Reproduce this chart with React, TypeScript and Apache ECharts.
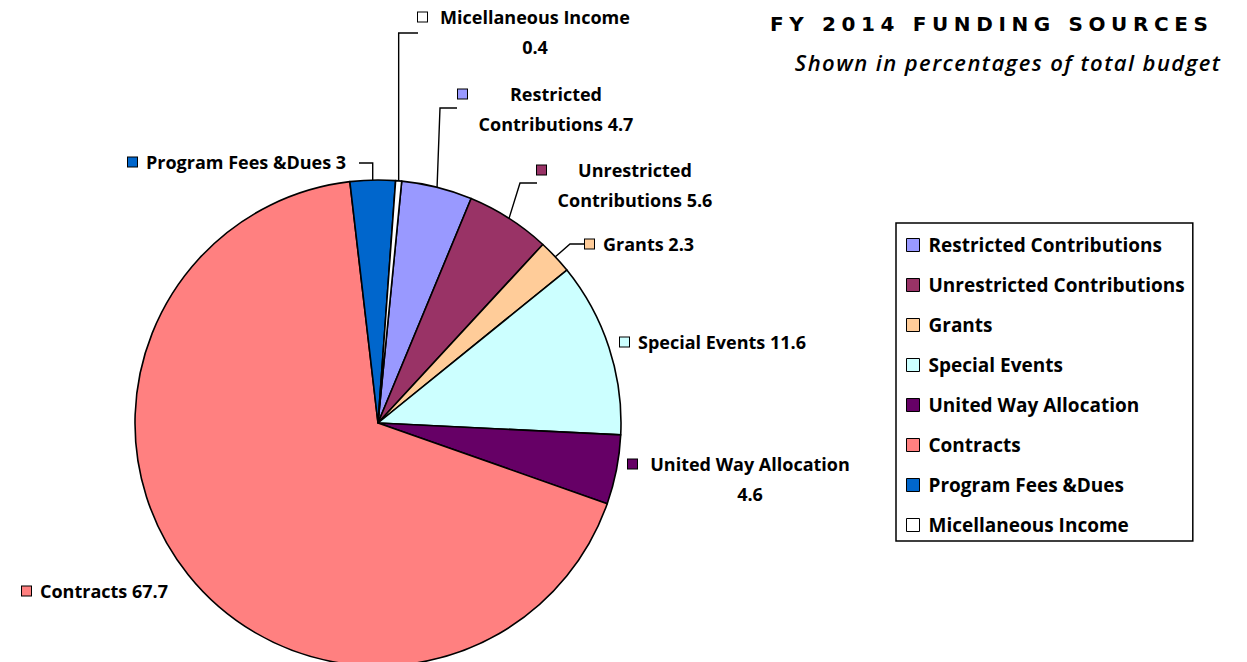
import React, { useEffect, useRef } from 'react';
import * as echarts from 'echarts';

const TITLE = 'FY 2014 FUNDING SOURCES';
const SUBTITLE = 'Shown in percentages of total budget';
const CATEGORIES = [
  'Restricted Contributions',
  'Unrestricted Contributions',
  'Grants',
  'Special Events',
  'United Way Allocation',
  'Contracts',
  'Program Fees &Dues',
  'Micellaneous Income',
];
const VALUES = [4.7, 5.6, 2.3, 11.6, 4.6, 67.7, 3, 0.4];
const COLORS = ['#9999FF', '#993366', '#FFCC99', '#CCFFFF', '#660066', '#FF8080', '#0066CC', '#FFFFFF'];
// 0: one line, 1: break after first word of name, 2: value on second line
const LABEL_BREAK = [1, 1, 0, 0, 2, 0, 0, 2];
const LINE_SHOWN = [true, true, true, false, false, false, true, true];

// label placement (layout only)
const LABEL_LAYOUT: any[] = [
  { x: 458, cy: 94, w: 160, elbow: [440, 108], end: [457, 108] },
  { x: 537, cy: 170, w: 160, elbow: [520, 183], end: [537, 183] },
  { x: 585, cy: 244, elbow: [570, 244], end: [585, 244] },
  { x: 620, cy: 342 },
  { x: 628, cy: 464, w: 208 },
  { x: 22, cy: 591 },
  { x: 128, cy: 162, elbow: [null, 163], end: [359, 163] },
  { x: 418, cy: 17, w: 198, elbow: [null, 33], end: [418, 33] },
];

const FONT = '"Open Sans", Lato, sans-serif';
const LFS = 18;

function fitSpacing(dom: HTMLElement, text: string, target: number) {
  const nodes = dom.querySelectorAll('text');
  nodes.forEach((n: any) => {
    if (n.textContent === text && typeof n.getComputedTextLength === 'function') {
      n.removeAttribute('letter-spacing');
      n.removeAttribute('dx');
      const len = n.getComputedTextLength();
      const sp = (target - len) / Math.max(1, text.length - 1);
      n.setAttribute('letter-spacing', sp.toFixed(2) + 'px');
      n.setAttribute('dx', sp.toFixed(2));
    }
  });
}

export default function App() {
  const ref = useRef<HTMLDivElement>(null);
  useEffect(() => {
    if (!ref.current) return;
    const chart = echarts.init(ref.current, null, { renderer: 'svg' });
    const rich: any = {
      g: { width: 9 },
      s: { width: 18 },
      t: { fontFamily: FONT, fontWeight: 'bold', fontSize: LFS, color: '#000', lineHeight: 30 },
    };
    COLORS.forEach((c, i) => {
      rich['b' + i] = { width: 9, height: 9, backgroundColor: c, borderColor: '#000', borderWidth: 1 };
      const L = LABEL_LAYOUT[i];
      if (L.w) {
        rich['w' + i] = {
          width: L.w,
          align: 'center',
          fontFamily: FONT,
          fontWeight: 'bold',
          fontSize: LFS,
          color: '#000',
          lineHeight: 30,
        };
      }
    });
    const data = CATEGORIES.map((name, i) => ({
      name,
      value: VALUES[i],
      itemStyle: { color: COLORS[i] },
      labelLine: { show: LINE_SHOWN[i] },
    }));
    chart.setOption({
      animation: false,
      graphic: [
        {
          type: 'text',
          style: {
            text: TITLE,
            x: 1208,
            y: 24,
            align: 'right',
            verticalAlign: 'middle',
            fontFamily: '"DejaVu Sans", sans-serif',
            fontWeight: 'bold',
            fontSize: 20,
            fill: '#000',
          },
        },
        {
          type: 'text',
          style: {
            text: SUBTITLE,
            x: 1220,
            y: 62,
            align: 'right',
            verticalAlign: 'middle',
            fontFamily: FONT,
            fontStyle: 'italic',
            fontWeight: 600,
            fontSize: 22,
            fill: '#000',
          },
        },
      ],
      legend: {
        orient: 'vertical',
        left: 896,
        top: 223,
        data: CATEGORIES,
        icon: 'rect',
        itemWidth: 13,
        itemHeight: 13,
        itemGap: 20,
        selectedMode: false,
        padding: [12, 8, 6, 10],
        borderColor: '#000',
        borderWidth: 1.5,
        itemStyle: { borderColor: '#000', borderWidth: 1 },
        textStyle: {
          fontFamily: FONT,
          fontWeight: 'bold',
          fontSize: 19,
          color: '#000',
          lineHeight: 20,
          padding: [0, 0, 0, 4],
        },
      },
      series: [
        {
          type: 'pie',
          center: [378, 423],
          radius: 243,
          startAngle: 84.4,
          clockwise: true,
          avoidLabelOverlap: false,
          emphasis: { disabled: true },
          itemStyle: { borderColor: '#000', borderWidth: 1.6 },
          label: {
            show: true,
            position: 'outside',
            formatter: (p: any) => {
              const i = p.dataIndex;
              const name = p.name;
              const v = p.value;
              const br = LABEL_BREAK[i];
              if (br === 0) return `{b${i}|}{g|}{t|${name} ${v}}`;
              let l1: string;
              let l2: string;
              if (br === 1) {
                const k = name.indexOf(' ');
                l1 = name.slice(0, k);
                l2 = name.slice(k + 1) + ' ' + v;
              } else {
                l1 = name;
                l2 = String(v);
              }
              return `{b${i}|}{g|}{w${i}|${l1}}\n{s|}{w${i}|${l2}}`;
            },
            rich,
            fontFamily: FONT,
            fontWeight: 'bold',
            fontSize: LFS,
            color: '#000',
            lineHeight: 30,
          },
          labelLine: { show: true, length: 6, length2: 6, lineStyle: { color: '#000', width: 1.4 } },
          labelLayout: (params: any) => {
            const i = params.dataIndex;
            const L = LABEL_LAYOUT[i];
            const res: any = { x: L.x, y: L.cy - 15, align: 'left', verticalAlign: 'top' };
            if (L.elbow && params.labelLinePoints && params.labelLinePoints[0]) {
              const p0 = params.labelLinePoints[0];
              const ex = L.elbow[0] === null ? p0[0] : L.elbow[0];
              res.labelLinePoints = [p0, [ex, L.elbow[1]], L.end];
            }
            return res;
          },
          data,
        },
      ],
    });
    const dom = ref.current;
    const fix = () => {
      fitSpacing(dom, TITLE, 438);
      fitSpacing(dom, SUBTITLE, 425);
    };
    fix();
    chart.on('finished', fix);
    const t = setTimeout(fix, 50);
    return () => {
      clearTimeout(t);
      chart.dispose();
    };
  }, []);
  return (
    <div
      ref={ref}
      style={{ position: 'fixed', left: 0, top: 0, width: 1247, height: 662, background: '#fff' }}
    />
  );
}
